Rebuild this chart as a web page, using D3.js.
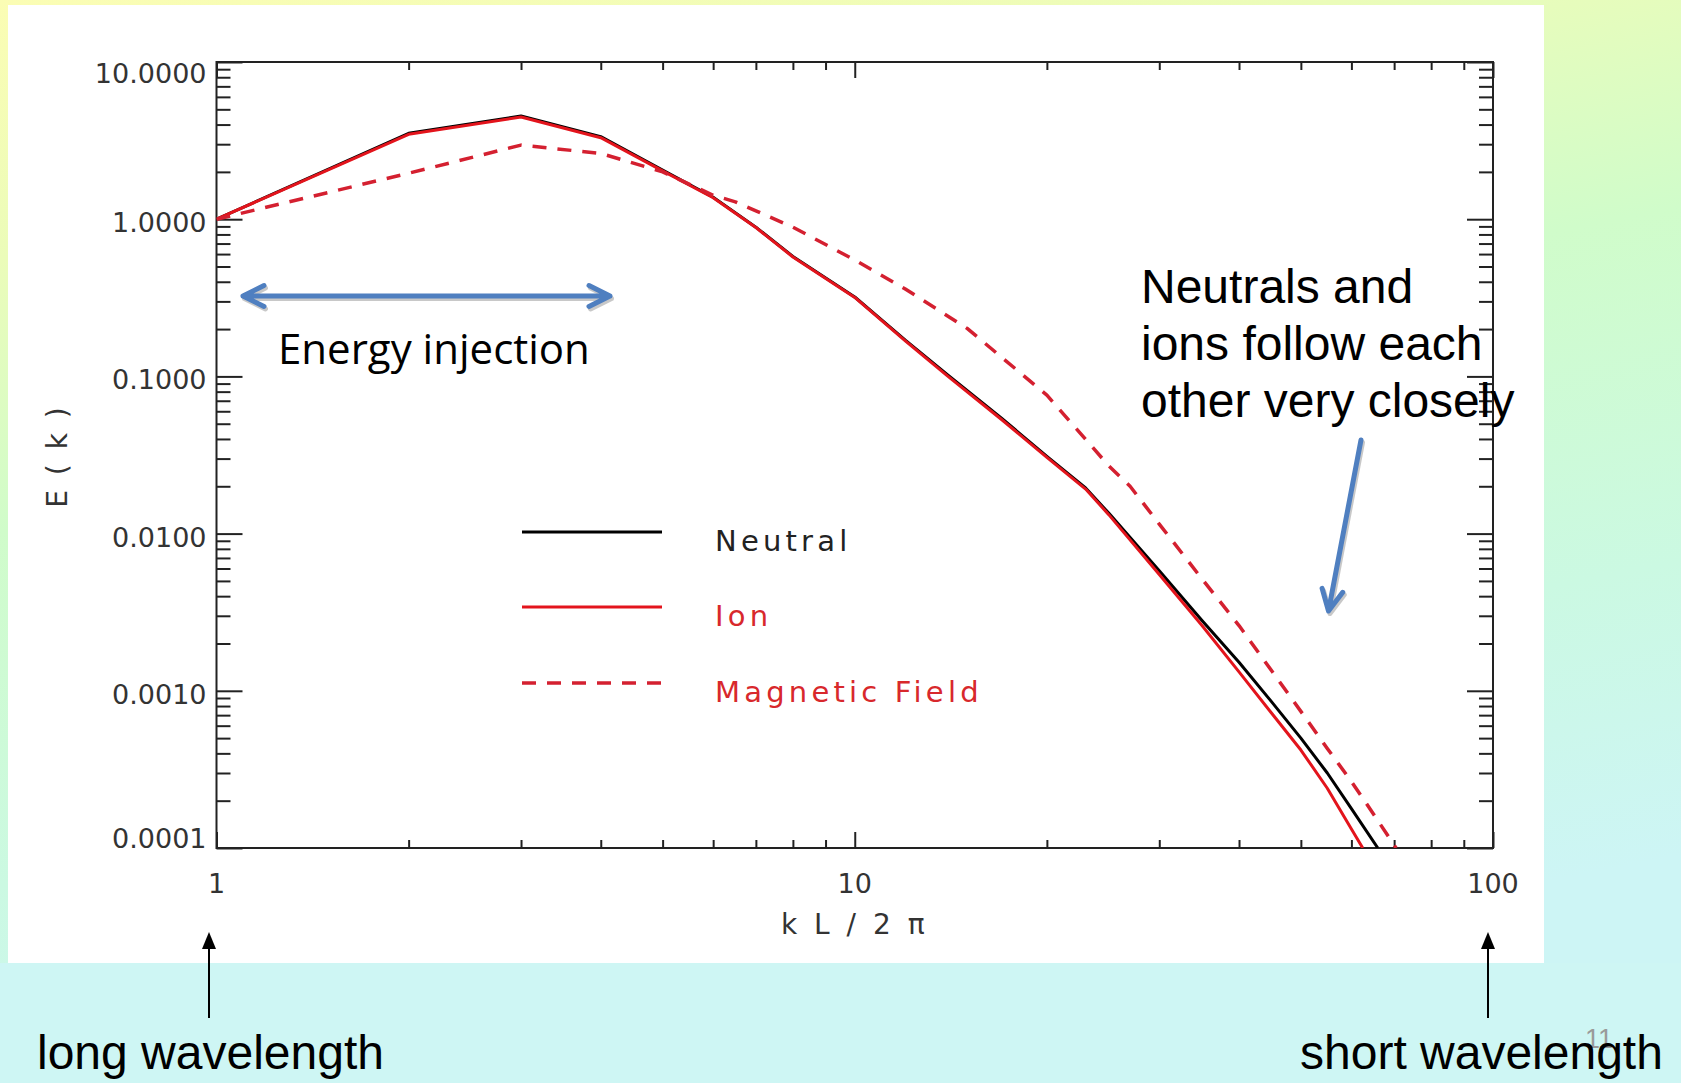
<!DOCTYPE html>
<html>
<head>
<meta charset="utf-8">
<script src="https://cdn.jsdelivr.net/npm/d3@7"></script>
<style>
  html, body { margin: 0; padding: 0; overflow: hidden; background: #cdf5f4; }
  svg { display: block; }
</style>
</head>
<body>
<svg id="chart" width="1681" height="1083"></svg>
<script>
// Axis ticks and labels
const kMajor = [1, 10, 100];
const kLabels = ["1", "10", "100"];
const eMajor = [10, 1, 0.1, 0.01, 0.001, 0.0001];
const eLabels = ["10.0000", "1.0000", "0.1000", "0.0100", "0.0010", "0.0001"];

// Energy spectra E(k) against kL/2π
const neutralK = [1, 2, 3, 4, 5, 6, 7, 8, 10, 12, 14, 17, 20, 23, 25, 30, 35, 40, 45, 50, 55, 60, 66];
const neutralE = [1.0, 3.52, 4.53, 3.35, 2.05, 1.38, 0.89, 0.58, 0.32, 0.17, 0.102, 0.054, 0.031, 0.0195, 0.0135, 0.0058, 0.0028, 0.00152, 0.00085, 0.0005, 0.0003, 0.000178, 0.0001];

const ionK = [1, 2, 3, 4, 5, 6, 7, 8, 10, 12, 14, 17, 20, 23, 25, 30, 35, 40, 45, 50, 55, 60, 62.5];
const ionE = [1.0, 3.47, 4.47, 3.3, 2.03, 1.37, 0.885, 0.575, 0.318, 0.168, 0.1, 0.053, 0.0305, 0.0192, 0.0132, 0.0055, 0.0026, 0.00132, 0.00072, 0.00042, 0.00024, 0.000132, 0.0001];

const magK = [1, 2, 3, 4, 5, 6, 6.5, 7, 8, 10, 12, 15, 20, 25, 27, 30, 35, 40, 45, 50, 55, 60, 65, 70.5];
const magE = [1.0, 1.96, 2.96, 2.62, 2.0, 1.42, 1.29, 1.13, 0.89, 0.55, 0.36, 0.202, 0.076, 0.027, 0.020, 0.0115, 0.00515, 0.0026, 0.00134, 0.00074, 0.00043, 0.000265, 0.000164, 0.0001];

const legendNames = ["Neutral", "Ion", "Magnetic Field"];

const svg = d3.select("#chart");
const W = 1681, H = 1083;

// slide background
const defs = svg.append("defs");
const grad = defs.append("linearGradient").attr("id", "bg")
  .attr("x1", 0).attr("y1", 0).attr("x2", 0.3).attr("y2", 1);
grad.append("stop").attr("offset", 0).attr("stop-color", "#fbfdb4");
grad.append("stop").attr("offset", 0.22).attr("stop-color", "#ebfcb9");
grad.append("stop").attr("offset", 0.45).attr("stop-color", "#d0fcca");
grad.append("stop").attr("offset", 0.75).attr("stop-color", "#cbf9e2");
grad.append("stop").attr("offset", 1).attr("stop-color", "#cdf5f5");
svg.append("rect").attr("width", W).attr("height", H).attr("fill", "url(#bg)");
svg.append("rect").attr("x", 0).attr("y", 963).attr("width", W).attr("height", H - 963).attr("fill", "#cef6f4");

// white plot image
svg.append("rect").attr("x", 8).attr("y", 5).attr("width", 1536).attr("height", 958).attr("fill", "#ffffff");

const pLeft = 216.5, pRight = 1493, pTop = 62, pBottom = 848;
const x = d3.scaleLog().domain([1, 100]).range([pLeft, pRight]);
const y = d3.scaleLog().domain([1e-4, 10]).range([pBottom, pTop]);

const axisColor = "#222";
const idlFont = "'DejaVu Sans', sans-serif";
const idlInk = "#333333";

const isMajor = v => Math.abs(Math.log10(v) - Math.round(Math.log10(v))) < 1e-9;
const kMinor = x.ticks().filter(v => !isMajor(v));
const eMinor = y.ticks().filter(v => !isMajor(v));

function styleAxis(g) {
  g.select(".domain").remove();
  g.selectAll(".tick line").attr("stroke", axisColor).attr("stroke-width", 2);
  g.selectAll(".tick text").remove();
}

// inward ticks on all four sides
const axes = svg.append("g");
axes.append("g").attr("transform", `translate(${pLeft},0)`)
  .call(d3.axisRight(y).tickValues(eMajor).tickSize(26).tickFormat("")).call(styleAxis);
axes.append("g").attr("transform", `translate(${pLeft},0)`)
  .call(d3.axisRight(y).tickValues(eMinor).tickSize(14).tickFormat("")).call(styleAxis);
axes.append("g").attr("transform", `translate(${pRight},0)`)
  .call(d3.axisLeft(y).tickValues(eMajor).tickSize(26).tickFormat("")).call(styleAxis);
axes.append("g").attr("transform", `translate(${pRight},0)`)
  .call(d3.axisLeft(y).tickValues(eMinor).tickSize(14).tickFormat("")).call(styleAxis);
axes.append("g").attr("transform", `translate(0,${pBottom})`)
  .call(d3.axisTop(x).tickValues(kMajor).tickSize(16).tickFormat("")).call(styleAxis);
axes.append("g").attr("transform", `translate(0,${pBottom})`)
  .call(d3.axisTop(x).tickValues(kMinor).tickSize(8).tickFormat("")).call(styleAxis);
axes.append("g").attr("transform", `translate(0,${pTop})`)
  .call(d3.axisBottom(x).tickValues(kMajor).tickSize(16).tickFormat("")).call(styleAxis);
axes.append("g").attr("transform", `translate(0,${pTop})`)
  .call(d3.axisBottom(x).tickValues(kMinor).tickSize(8).tickFormat("")).call(styleAxis);

axes.append("rect").attr("x", pLeft).attr("y", pTop)
  .attr("width", pRight - pLeft).attr("height", pBottom - pTop)
  .attr("fill", "none").attr("stroke", axisColor).attr("stroke-width", 2);

// tick labels (kept inside the vertical extent of the frame)
svg.append("g").selectAll("text").data(eMajor).join("text")
  .attr("x", pLeft - 10)
  .attr("y", v => Math.min(Math.max(y(v) + 3, pTop + 11), pBottom - 10) + 10)
  .attr("text-anchor", "end")
  .attr("font-family", idlFont).attr("font-size", 27).attr("fill", idlInk)
  .text((v, i) => eLabels[i]);

svg.append("g").selectAll("text").data(kMajor).join("text")
  .attr("x", v => x(v))
  .attr("y", 893)
  .attr("text-anchor", "middle")
  .attr("font-family", idlFont).attr("font-size", 27).attr("fill", idlInk)
  .text((v, i) => kLabels[i]);

// axis titles
svg.append("text").attr("x", (pLeft + pRight) / 2).attr("y", 934)
  .attr("text-anchor", "middle").attr("font-family", idlFont)
  .attr("font-size", 28).attr("letter-spacing", 4).attr("fill", idlInk)
  .text("k L / 2 π");
svg.append("text").attr("transform", "translate(67,456) rotate(-90)")
  .attr("text-anchor", "middle").attr("font-family", idlFont)
  .attr("font-size", 28).attr("letter-spacing", 3).attr("fill", idlInk)
  .text("E ( k )");

// spectra
defs.append("clipPath").attr("id", "plotClip").append("rect")
  .attr("x", pLeft).attr("y", pTop).attr("width", pRight - pLeft).attr("height", pBottom - pTop);

const line = d3.line().x(d => x(d[0])).y(d => y(d[1]));
const plot = svg.append("g").attr("clip-path", "url(#plotClip)");
const series = [
  { k: neutralK, e: neutralE, color: "#000000", dash: null, w: 3 },
  { k: ionK, e: ionE, color: "#e3141c", dash: null, w: 3 },
  { k: magK, e: magE, color: "#d42030", dash: "14,11", w: 3.5 }
];
series.forEach(s => {
  plot.append("path")
    .attr("d", line(s.k.map((k, i) => [k, s.e[i]])))
    .attr("fill", "none").attr("stroke", s.color).attr("stroke-width", s.w)
    .attr("stroke-linejoin", "round")
    .attr("stroke-dasharray", s.dash);
});

// legend
const legendY = [532, 607, 683];
const legend = svg.append("g");
series.forEach((s, i) => {
  legend.append("line").attr("x1", 522).attr("x2", 662)
    .attr("y1", legendY[i]).attr("y2", legendY[i])
    .attr("stroke", s.color).attr("stroke-width", s.w).attr("stroke-dasharray", s.dash);
  legend.append("text").attr("x", 715).attr("y", legendY[i] + 19)
    .attr("font-family", idlFont).attr("font-size", 29)
    .attr("letter-spacing", 4.2)
    .attr("fill", i === 0 ? "#222222" : "#d8282c")
    .text(legendNames[i]);
});

// annotation arrows
const blue = "#4f7fc0";
function chevron(tip, dir, len, half) {
  const px = -dir[1], py = dir[0];
  const bx = tip[0] - dir[0] * len, by = tip[1] - dir[1] * len;
  return `M${bx + px * half},${by + py * half}L${tip[0]},${tip[1]}L${bx - px * half},${by - py * half}`;
}
function blueArrow(g, a, b, both) {
  const dx = b[0] - a[0], dy = b[1] - a[1], L = Math.hypot(dx, dy);
  const u = [dx / L, dy / L];
  let d = `M${a[0]},${a[1]}L${b[0]},${b[1]}` + chevron(b, u, 21, 10.5);
  if (both) d += chevron(a, [-u[0], -u[1]], 21, 10.5);
  g.append("path").attr("d", d).attr("transform", "translate(1.5,2.5)")
    .attr("fill", "none").attr("stroke", "#9a9a9a").attr("stroke-opacity", 0.55)
    .attr("stroke-width", 5).attr("stroke-linecap", "round").attr("stroke-linejoin", "round");
  g.append("path").attr("d", d)
    .attr("fill", "none").attr("stroke", blue)
    .attr("stroke-width", 5).attr("stroke-linecap", "round").attr("stroke-linejoin", "round");
}
const notes = svg.append("g");
blueArrow(notes, [243, 296], [610, 296], true);
blueArrow(notes, [1361, 440], [1328.5, 611], false);

notes.append("text").attr("x", 278).attr("y", 364)
  .attr("font-family", "'Open Sans', sans-serif").attr("font-size", 42).attr("fill", "#000")
  .text("Energy injection");

const noteLines = ["Neutrals and", "ions follow each", "other very closely"];
notes.append("g").selectAll("text").data(noteLines).join("text")
  .attr("x", 1141).attr("y", (d, i) => 303 + i * 57)
  .attr("font-family", "'Liberation Sans', Arial, sans-serif").attr("font-size", 48).attr("fill", "#000")
  .text(d => d);

// wavelength markers under the axis ends
function upArrow(g, xp) {
  g.append("line").attr("x1", xp).attr("x2", xp).attr("y1", 1018).attr("y2", 946)
    .attr("stroke", "#000").attr("stroke-width", 2);
  g.append("path").attr("d", `M${xp},932L${xp - 7},949L${xp + 7},949Z`).attr("fill", "#000");
}
upArrow(notes, 209);
upArrow(notes, 1488);

notes.append("text").attr("x", 37).attr("y", 1069)
  .attr("font-family", "'Liberation Sans', Arial, sans-serif").attr("font-size", 48).attr("fill", "#000")
  .text("long wavelength");
// slide number, sitting behind the caption on the right
notes.append("text").attr("x", 1585).attr("y", 1048)
  .attr("font-family", "'Liberation Sans', Arial, sans-serif").attr("font-size", 27).attr("fill", "#9a9a9a")
  .text("11");
notes.append("text").attr("x", 1300).attr("y", 1069)
  .attr("font-family", "'Liberation Sans', Arial, sans-serif").attr("font-size", 48).attr("fill", "#000")
  .text("short wavelength");
</script>
</body>
</html>
